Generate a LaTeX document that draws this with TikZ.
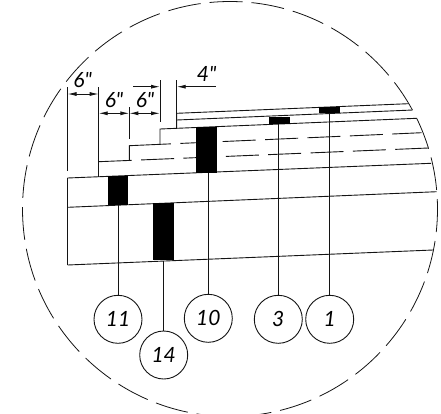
\documentclass[tikz,border=0pt]{standalone}
\usepackage{xcolor}
\usepackage{fontspec}
\newfontfamily\cadfont{Lato}
\usetikzlibrary{arrows.meta}
\definecolor{linegray}{RGB}{20,20,20}

\begin{document}
\begin{tikzpicture}[x=1pt, y=-1pt, line width=0.9pt, draw=linegray]
    \tikzstyle{balloon} = [circle, draw=linegray, minimum size=48pt, inner sep=0pt, font=\cadfont\itshape\fontsize{21}{21}\selectfont]
    \tikzstyle{block} = [rectangle, fill=black, inner sep=0pt, minimum width=20.6pt]
    \tikzstyle{dimlabel} = [inner sep=0pt, font=\cadfont\itshape\fontsize{21}{21}\selectfont]
    \tikzstyle{dimline} = [{Latex[length=9pt,width=4pt]}-{Latex[length=9pt,width=4pt]}]
    \tikzstyle{dimtip} = [-{Latex[length=9pt,width=4pt]}]
    \tikzstyle{hidden} = [dash pattern=on 33pt off 9.4pt]
    \useasboundingbox (0,0) rectangle (441,413);

    % Detail outline
    \draw [dash pattern=on 33pt off 9.06pt, dash phase=23pt, line width=0.8pt] (230,209) circle [radius=207.5pt];

    % Slab
    \draw (67.5,178) -- (431,163.3);
    \draw (67.5,207.3) -- (436.7,191.7);
    \draw (67.5,265) -- (433,250);
    \draw (67.5,178) -- (67.5,265);

    % Steps
    \draw (98.7,176.7) -- (98.7,161.7);
    \draw [hidden] (98.7,161.7) -- (428.3,148);
    \draw (129.3,160.4) -- (129.3,145.7) -- (138,145.3);
    \draw [hidden] (138,145.3) -- (421.7,132.7);
    \draw (160,144.3) -- (160,129) -- (416.7,118.3);
    \draw (176.7,128.3) -- (176.7,113.3) -- (408.3,103.7);
    \draw (176.7,120) -- (412.7,110);

    % Blocks
    \node [block, minimum height=46pt] (blockten) at (206.6,149.8) {};
    \node [block, minimum height=7pt] (blockthree) at (279.6,120) {};
    \node [block, minimum height=6pt] (blockone) at (329.7,110.3) {};
    \node [block, minimum height=29pt] (blockeleven) at (118,190.3) {};
    \node [block, minimum height=57pt] (blockfourteen) at (163.7,231.8) {};

    % Balloons
    \node [balloon, below of=blockeleven, node distance=129pt] (balleleven) {11};
    \node [balloon, below of=blockfourteen, node distance=123.2pt] (ballfourteen) {14};
    \node [balloon, below of=blockten, node distance=168.5pt, xshift=1.7pt] (ballten) {10};
    \node [balloon, below of=blockthree, node distance=199.3pt, xshift=-1.3pt] (ballthree) {3};
    \node [balloon, below of=blockone, node distance=209pt] (ballone) {1};

    % Leaders
    \foreach \name in {eleven, fourteen, ten, three, one}
        \draw (ball\name |- block\name.south) -- (ball\name);

    % Extension lines
    \coordinate (exta) at (67.5,87);
    \coordinate (extb) at (98.7,87);
    \coordinate (extc) at (129.3,107);
    \coordinate (extd) at (160,80);
    \coordinate (exte) at (176.7,80);
    \draw (exta) -- (67.5,171);
    \draw (extb) -- (98.7,176.7);
    \draw (extc) -- (129.3,139);
    \draw (extd) -- (160,122);
    \draw (exte) -- (176.7,128.3);

    % Dimensions
    \coordinate (tailc) at (133,86.7);
    \coordinate (taild) at (215.7,86.7);
    \draw [dimline] (exta |- 0,94) -- (extb |- 0,94);
    \draw [dimline] (extb |- 0,113.3) -- (extc |- 0,113.3);
    \draw [dimline] (extc |- 0,113.3) -- (extd |- 0,113.3);
    \draw [dimtip] (tailc) -- (extd |- tailc);
    \draw [dimtip] (taild) -- (exte |- taild);

    \node [dimlabel] (labela) at (82.7,80) {6"};
    \node [dimlabel] (labelb) at (114,100) {6"};
    \node [dimlabel] (labelc) at (145,100) {6"};
    \node [dimlabel] (labeld) at (206.7,74) {4"};
\end{tikzpicture}
\end{document}
